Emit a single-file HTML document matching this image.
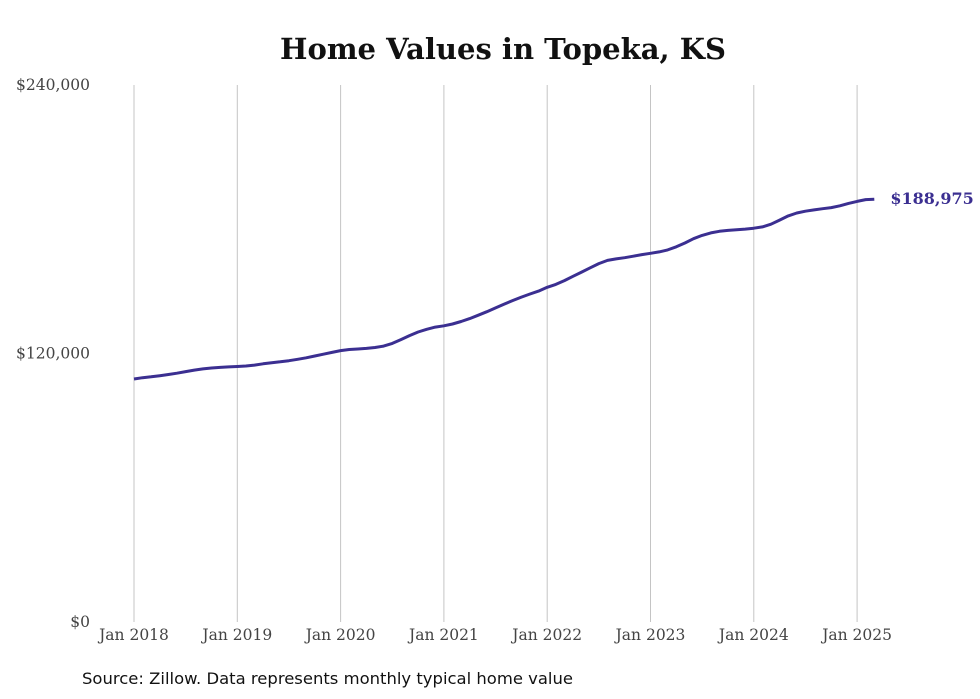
<!DOCTYPE html>
<html><head><meta charset="utf-8"><style>
body{margin:0;background:#fff;}
svg{display:block;}
</style></head><body>
<svg width="980" height="699" viewBox="0 0 980 699">
<text x="503" y="59" text-anchor="middle" font-family="'DejaVu Serif','Liberation Serif',serif" font-weight="bold" font-size="29" fill="#111" textLength="446" lengthAdjust="spacingAndGlyphs">Home Values in Topeka, KS</text>
<g id="grid"></g><g id="yt"></g><g id="xt"></g>
<path id="line" fill="none" stroke="#3b2f91" stroke-width="3" stroke-linejoin="round"/>
<text id="endlabel" font-family="'DejaVu Serif','Liberation Serif',serif" font-weight="bold" font-size="16" fill="#3b2f91"></text>
<text x="82" y="684" font-family="'DejaVu Sans','Liberation Sans',sans-serif" font-size="16" fill="#111" textLength="491" lengthAdjust="spacingAndGlyphs">Source: Zillow. Data represents monthly typical home value</text>
</svg>
<script>
const yTicks=[0,120000,240000];
const yTickLabels=["$0","$120,000","$240,000"];
const xYears=[2018,2019,2020,2021,2022,2023,2024,2025];
const xTickLabels=["Jan 2018","Jan 2019","Jan 2020","Jan 2021","Jan 2022","Jan 2023","Jan 2024","Jan 2025"];
const startYear=2018;
const valuesK=[
108.6,109.2,109.6,110.1,110.6,111.2,111.9,112.6,113.1,113.5,113.8,114.0,
114.2,114.4,114.8,115.4,115.9,116.3,116.8,117.4,118.1,118.9,119.7,120.5,
121.3,121.8,122.0,122.3,122.7,123.3,124.5,126.2,128.0,129.6,130.8,131.8,
132.4,133.2,134.3,135.6,137.1,138.7,140.4,142.1,143.7,145.2,146.6,147.9,
149.6,150.9,152.6,154.5,156.4,158.3,160.2,161.6,162.3,162.8,163.5,164.2,
164.8,165.4,166.3,167.7,169.4,171.3,172.8,173.9,174.6,175.0,175.3,175.6,
176.0,176.6,177.8,179.6,181.5,182.8,183.6,184.2,184.7,185.2,186.0,187.1,
188.0,188.8,188.975];
const endLabel="$188,975";
const ns="http://www.w3.org/2000/svg";
const y=v=>622-v/240000*537;
const x=t=>134+(t-startYear)*103.3;
const grid=document.getElementById('grid'),yt=document.getElementById('yt'),xt=document.getElementById('xt');
xYears.forEach((yr,i)=>{
 const l=document.createElementNS(ns,'line');
 l.setAttribute('x1',x(yr));l.setAttribute('x2',x(yr));l.setAttribute('y1',85);l.setAttribute('y2',622);
 l.setAttribute('stroke','#c4c4c4');l.setAttribute('stroke-width','1');
 
 
 grid.appendChild(l);
 const t=document.createElementNS(ns,'text');
 t.setAttribute('x',x(yr));t.setAttribute('y',640);t.setAttribute('text-anchor','middle');
 t.setAttribute('font-family',"'DejaVu Serif','Liberation Serif',serif");t.setAttribute('font-size','15.5');t.setAttribute('fill','#444');
 t.textContent=xTickLabels[i];
 
 
 xt.appendChild(t);
});
yTicks.forEach((v,i)=>{
 const t=document.createElementNS(ns,'text');
 t.setAttribute('x',90);t.setAttribute('y',y(v)+5);t.setAttribute('text-anchor','end');
 t.setAttribute('font-family',"'DejaVu Serif','Liberation Serif',serif");t.setAttribute('font-size','15.5');t.setAttribute('fill','#444');
 t.textContent=yTickLabels[i];
 
 
 yt.appendChild(t);
});
let d='';
valuesK.forEach((v,i)=>{d+=(i?'L':'M')+x(startYear+i/12).toFixed(1)+','+y(v*1000).toFixed(1);});
document.getElementById('line').setAttribute('d',d);
const last=valuesK.length-1;
const el=document.getElementById('endlabel');
el.setAttribute('x',x(startYear+last/12)+16);el.setAttribute('y',y(valuesK[last]*1000)+5);
el.textContent=endLabel;
</script>
</body></html>
